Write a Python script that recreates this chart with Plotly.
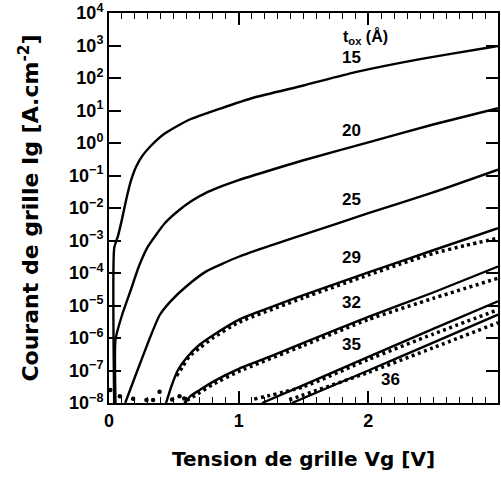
import plotly.graph_objects as go

# Gate voltage (V) and log10 of gate current density (A/cm^2)
# Simulated curves (solid)
v15 = [0.04, 0.04, 0.07, 0.10, 0.135, 0.17, 0.21, 0.26, 0.32, 0.43, 0.61, 0.86, 1.12, 1.50, 1.90, 2.41, 2.92, 3.0]
l15 = [-8.0, -3.24, -2.85, -2.35, -1.7, -1.15, -0.72, -0.38, -0.1, 0.29, 0.70, 1.06, 1.40, 1.77, 2.18, 2.59, 2.93, 2.98]

v20 = [0.05, 0.05, 0.10, 0.17, 0.23, 0.30, 0.43, 0.53, 0.63, 0.74, 0.87, 1.0, 1.25, 1.5, 2.0, 2.5, 3.0]
l20 = [-8.0, -6.05, -5.3, -4.5, -3.8, -3.19, -2.47, -2.1, -1.8, -1.55, -1.33, -1.14, -0.83, -0.53, 0.02, 0.57, 1.07]

v25 = [0.125, 0.2, 0.31, 0.39, 0.48, 0.6, 0.75, 1.0, 1.25, 1.5, 2.0, 2.5, 3.0]
l25 = [-8.0, -7.2, -6.05, -5.3, -4.85, -4.4, -3.95, -3.5, -3.15, -2.82, -2.16, -1.52, -0.82]

v29 = [0.44, 0.48, 0.53, 0.6, 0.7, 0.8, 1.0, 1.25, 1.5, 2.0, 2.5, 3.0]
l29 = [-8.0, -7.5, -7.0, -6.6, -6.2, -5.92, -5.44, -5.05, -4.68, -3.98, -3.3, -2.62]

v32 = [0.58, 0.63, 0.7, 0.8, 1.0, 1.25, 1.5, 2.0, 2.5, 3.0]
l32 = [-8.0, -7.78, -7.6, -7.35, -6.95, -6.56, -6.15, -5.35, -4.6, -3.80]

v35 = [1.18, 1.5, 2.0, 2.5, 3.0]
l35 = [-8.0, -7.45, -6.58, -5.72, -4.87]

v36 = [1.41, 2.0, 2.5, 3.0]
l36 = [-8.0, -7.0, -6.14, -5.28]

# Measured data (dotted)
m29_v = [0.52, 0.57, 0.62, 0.7, 0.8, 1.0, 1.5, 2.0, 2.25, 2.5, 2.75, 3.0]
m29_l = [-7.17, -6.87, -6.56, -6.3, -6.0, -5.52, -4.76, -4.06, -3.72, -3.4, -3.15, -2.93]

m32_v = [0.6, 0.7, 0.8, 1.0, 1.5, 2.0, 2.5, 3.0]
m32_l = [-7.92, -7.68, -7.43, -7.03, -6.23, -5.43, -4.78, -4.16]

m35_v = [1.12, 1.5, 2.0, 2.5, 3.0]
m35_l = [-7.88, -7.5, -6.66, -5.88, -5.13]

m36_v = [1.39, 2.0, 2.5, 3.0]
m36_l = [-7.9, -7.06, -6.3, -5.53]

# isolated noise-floor measurement points
noise_v = [0.01, 0.084, 0.186, 0.289, 0.34, 0.39, 0.487, 0.544, 0.58]
noise_l = [-7.6, -7.79, -7.87, -7.91, -7.91, -7.65, -7.89, -7.79, -7.86]

tox_labels = ["15", "20", "25", "29", "32", "35", "36"]
label_v = [1.87, 1.87, 1.87, 1.87, 1.87, 1.87, 2.17]
label_l = [2.63, 0.39, -1.75, -3.53, -4.91, -6.2, -7.28]

y_exps = list(range(-8, 5))
y_ticktext = ["<b>10<sup>%s</sup></b>" % (str(e).replace("-", "\u2212")) for e in y_exps]
x_ticks = [0, 1, 2, 3]

FONT = "Liberation Sans, Arial, sans-serif"
TFONT = "DejaVu Sans, sans-serif"

def p(vals):
    return [10 ** v for v in vals]

fig = go.Figure()
for vv, ll in [(v15, l15), (v20, l20), (v25, l25), (v29, l29), (v32, l32), (v35, l35), (v36, l36)]:
    fig.add_trace(go.Scatter(x=vv, y=p(ll), mode="lines",
                             line=dict(color="black", width=2.4, shape="spline", smoothing=0.5),
                             showlegend=False, hoverinfo="skip"))
for vv, ll in [(m29_v, m29_l), (m32_v, m32_l), (m35_v, m35_l), (m36_v, m36_l)]:
    fig.add_trace(go.Scatter(x=vv, y=p(ll), mode="lines",
                             line=dict(color="black", width=3.5, dash="3px,3.5px", shape="spline", smoothing=0.5),
                             showlegend=False, hoverinfo="skip"))
fig.add_trace(go.Scatter(x=noise_v, y=p(noise_l), mode="markers",
                         marker=dict(color="black", size=4.5),
                         showlegend=False, hoverinfo="skip"))

for t, xv, yv in zip(tox_labels, label_v, label_l):
    fig.add_annotation(x=xv, y=yv, text="<b>%s</b>" % t, showarrow=False,
                       font=dict(family=FONT, size=17, color="black"))
fig.add_annotation(x=1.98, y=3.27, text="<b>t<sub>ox</sub> (Å)</b>", showarrow=False,
                   font=dict(family=FONT, size=16, color="black"))

fig.update_layout(
    template="simple_white",
    width=501, height=477,
    margin=dict(l=109, r=1, t=13, b=74),
    xaxis=dict(range=[0, 3], tickvals=x_ticks, ticktext=["<b>%d</b>" % t for t in x_ticks],
               ticks="inside", ticklen=12, tickwidth=1.6, tickcolor="black",
               minor=dict(dtick=0.1, ticks="inside", ticklen=6, tickwidth=1.2, tickcolor="black"),
               showline=True, linewidth=2, linecolor="black", mirror="ticks",
               tickfont=dict(family=FONT, size=18, color="black"),
               title=dict(text="<b>Tension de grille Vg [V]</b>", standoff=22,
                          font=dict(family=TFONT, size=20, color="black"))),
    yaxis=dict(type="log", range=[-8, 4], tickvals=[10 ** e for e in y_exps], ticktext=y_ticktext,
               ticks="inside", ticklen=12, tickwidth=1.6, tickcolor="black",
               showline=True, linewidth=2, linecolor="black", mirror="ticks",
               tickfont=dict(family=FONT, size=18, color="black"),
               title=dict(text="<b>Courant de grille Ig [A.cm<sup>-2</sup>]</b>", standoff=24,
                          font=dict(family=TFONT, size=22, color="black"))),
)

fig.write_html("out.html", post_script="document.body.style.margin='0';",
               config={"displayModeBar": False})
